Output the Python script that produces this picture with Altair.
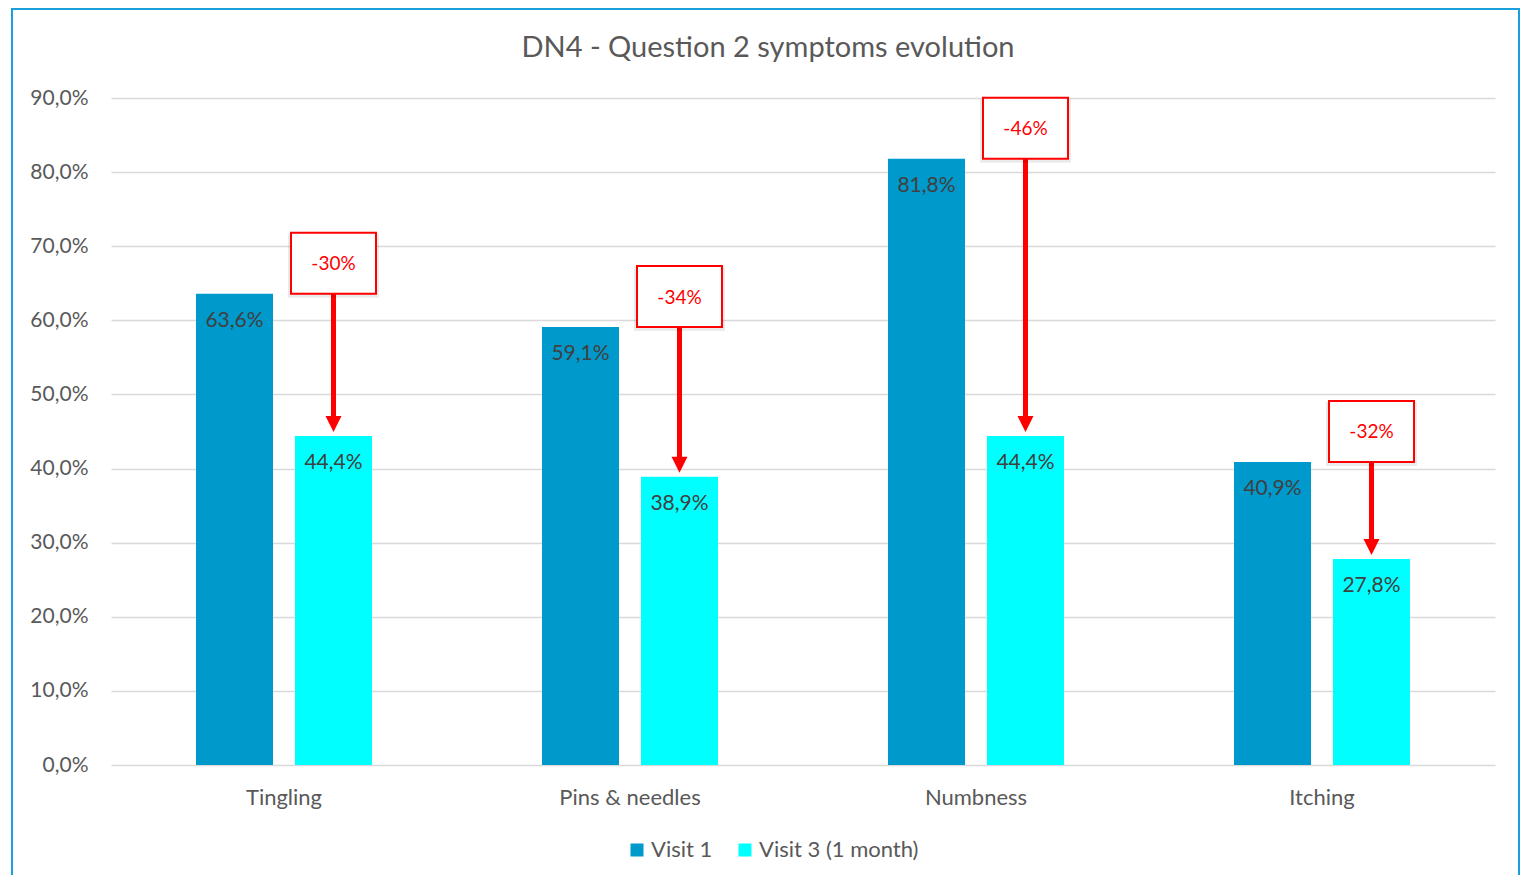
import altair as alt
import pandas as pd

categories = ["Tingling", "Pins & needles", "Numbness", "Itching"]
series_names = ["Visit 1", "Visit 3 (1 month)"]
visit1 = [63.6, 59.1, 81.8, 40.9]
visit3 = [44.4, 38.9, 44.4, 27.8]
change_labels = ["-30%", "-34%", "-46%", "-32%"]
y_ticks = [0, 10, 20, 30, 40, 50, 60, 70, 80, 90]
title_text = "DN4 - Question 2 symptoms evolution"

colors = ["#0099CC", "#00FFFF"]
FONT = "Lato"
GREY = "#595959"
RED = "#FF0000"

W, H = 1384, 667
YMAX = 90
px = YMAX / H  # value units per pixel
BOX_H = 61 * px
TIP_GAP = 4 * px
HEAD = 16 * px

rows = []
for c, a, b in zip(categories, visit1, visit3):
    rows.append({"category": c, "series": series_names[0], "value": a})
    rows.append({"category": c, "series": series_names[1], "value": b})
bars_df = pd.DataFrame(rows)

ann_df = pd.DataFrame({
    "category": categories,
    "series": [series_names[1]] * len(categories),
    "v1": visit1,
    "v3": visit3,
    "label": change_labels,
})

x_enc = alt.X(
    "category:N", sort=categories,
    scale=alt.Scale(domain=categories, paddingInner=0, paddingOuter=0),
    axis=alt.Axis(title=None, labelAngle=0, ticks=False, tickSize=0, domain=False,
                  labelPadding=22, labelFontSize=22, labelColor=GREY, labelFont=FONT, grid=False),
)
xo_enc = alt.XOffset(
    "series:N", sort=series_names,
    scale=alt.Scale(domain=series_names, paddingInner=0.222, paddingOuter=0.8586),
)
y_scale = alt.Scale(domain=[0, YMAX], nice=False, zero=True)
y_axis = alt.Axis(title=None, values=y_ticks,
                  labelExpr="replace(format(datum.value, '.1f'), '.', ',') + '%'",
                  grid=True, gridColor="#D9D9D9", gridWidth=1.3, ticks=False, tickSize=0,
                  domain=False, labelPadding=23, labelFontSize=21, labelColor=GREY,
                  labelFont=FONT)


def Y(field):
    return alt.Y(field, scale=y_scale, axis=y_axis)


bars = alt.Chart(bars_df).mark_bar().encode(
    x=x_enc,
    xOffset=xo_enc,
    y=Y("value:Q"),
    color=alt.Color("series:N", sort=series_names,
                    scale=alt.Scale(domain=series_names, range=colors),
                    legend=alt.Legend(title=None, orient="none", legendX=515, legendY=741,
                                      direction="horizontal", symbolType="square",
                                      symbolSize=169, symbolStrokeWidth=0, labelFontSize=22,
                                      labelColor=GREY, labelFont=FONT, columnPadding=21,
                                      labelOffset=3, padding=0)),
)

bar_labels = alt.Chart(bars_df).transform_calculate(
    txt="replace(format(datum.value, '.1f'), '.', ',') + '%'"
).mark_text(baseline="middle", dy=27, fontSize=21, color="#404040", font=FONT).encode(
    x=x_enc, xOffset=xo_enc,
    y=Y("value:Q"),
    text="txt:N",
)

ann = alt.Chart(ann_df).transform_calculate(
    top=f"datum.v1 + {BOX_H}",
    mid=f"datum.v1 + {BOX_H / 2}",
    tip=f"datum.v3 + {TIP_GAP}",
    shaft_end=f"datum.v3 + {TIP_GAP + HEAD * 0.6}",
    sh_bot=f"datum.v1 - {4 * px}",
    sh_top=f"datum.v1 + {BOX_H - 1 * px}",
)

shadow = ann.mark_bar(width=91, fill="#000000", opacity=0.08).encode(
    x=x_enc, xOffset=xo_enc,
    y=Y("sh_bot:Q"),
    y2="sh_top:Q",
)
boxes = ann.mark_bar(width=85, fill="white", stroke=RED, strokeWidth=2).encode(
    x=x_enc, xOffset=xo_enc,
    y=Y("v1:Q"),
    y2="top:Q",
)
box_text = ann.mark_text(baseline="middle", dy=1, fontSize=19, color=RED, font=FONT).encode(
    x=x_enc, xOffset=xo_enc,
    y=Y("mid:Q"),
    text="label:N",
)
shaft = ann.mark_rule(color=RED, strokeWidth=5).encode(
    x=x_enc, xOffset=xo_enc,
    y=Y("v1:Q"),
    y2="shaft_end:Q",
)
head = ann.mark_point(shape="M -1 -2 L 1 -2 L 0 0 Z", size=256, filled=True,
                      color=RED, opacity=1).encode(
    x=x_enc, xOffset=xo_enc,
    y=Y("tip:Q"),
)

deco = alt.Chart(pd.DataFrame({"k": [0]}))
border = deco.mark_rect(fillOpacity=0, stroke="#1A9FD8", strokeWidth=2).encode(
    x=alt.value(-99), x2=alt.value(1408), y=alt.value(-89), y2=alt.value(800)
)
title = deco.mark_text(fontSize=29, font=FONT, color=GREY, baseline="middle",
                       align="center").encode(
    x=alt.value(657), y=alt.value(-50), text=alt.value(title_text)
)

chart = alt.layer(border, title, bars, bar_labels, shaft, head, shadow, boxes, box_text).properties(
    width=W, height=H,
    padding={"left": 103, "top": 90, "right": 26, "bottom": 110},
    autosize=alt.AutoSizeParams(type="none"),
).configure(
    background="white",
    view=alt.ViewConfig(stroke="transparent", strokeWidth=0),
)

chart.save("out.html", embed_options={"renderer": "svg", "actions": False})
